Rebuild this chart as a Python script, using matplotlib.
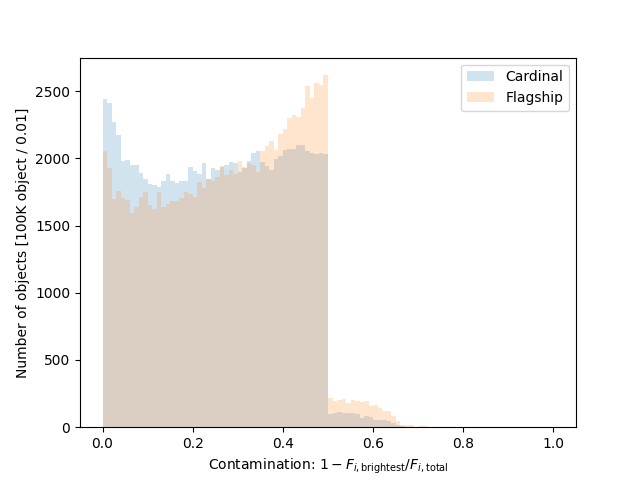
import numpy as np
import matplotlib
matplotlib.use("Agg")
import matplotlib.pyplot as plt

# bin edges: 100 bins of width 0.01 on [0, 1]
edges = np.linspace(0, 1, 101)
centers = 0.5 * (edges[:-1] + edges[1:])

# counts per bin (Cardinal)
cardinal = [2440, 2411, 2269, 2173, 1979, 1987, 1949, 1949, 1890, 1845,
            1806, 1801, 1786, 1830, 1882, 1830, 1815, 1830, 1830, 1934,
            1905, 1882, 1964, 1850, 1927, 1912, 1935, 1949, 1972, 1964,
            1897, 1930, 1979, 2039, 2054, 1972, 1942, 1912, 1994, 2016,
            2061, 2068, 2068, 2098, 2098, 2054, 2039, 2031, 2039, 2031,
            97, 104, 112, 104, 104, 104, 97, 70, 85, 74,
            56, 56, 52, 45, 30, 15, 8, 4, 3, 2,
            1, 1, 0, 0, 0, 0, 0, 0, 0, 0,
            0, 0, 0, 0, 0, 0, 0, 0, 0, 0,
            0, 0, 0, 0, 0, 0, 0, 0, 0, 0]

# counts per bin (Flagship)
flagship = [2054, 1927, 1696, 1756, 1704, 1689, 1592, 1637, 1711, 1748,
            1652, 1622, 1748, 1637, 1659, 1682, 1682, 1704, 1748, 1734,
            1711, 1823, 1778, 1845, 1830, 1862, 1945, 1875, 1912, 1882,
            1979, 1935, 1964, 1949, 1897, 2054, 2091, 2128, 2061, 2180,
            2217, 2299, 2321, 2306, 2373, 2537, 2448, 2560, 2545, 2619,
            216, 193, 201, 208, 179, 201, 193, 186, 193, 156,
            164, 141, 119, 119, 82, 45, 20, 15, 15, 4,
            7, 7, 2, 2, 1, 0, 0, 0, 0, 0,
            0, 0, 0, 0, 0, 0, 0, 0, 0, 0,
            0, 0, 0, 0, 0, 0, 0, 0, 0, 0]

fig = plt.figure(figsize=(6.4, 4.8), dpi=100)
ax = fig.add_subplot()
ax.hist(centers, bins=edges, weights=cardinal, histtype="stepfilled",
        alpha=0.2, color="C0", label="Cardinal")
ax.hist(centers, bins=edges, weights=flagship, histtype="stepfilled",
        alpha=0.2, color="C1", label="Flagship")
ax.set_xlabel(r"Contamination: $1 - F_{i,\mathrm{brightest}}/F_{i,\mathrm{total}}$")
ax.set_ylabel("Number of objects [100K object / 0.01]")
ax.legend(loc="upper right")
fig.savefig("out.png")
